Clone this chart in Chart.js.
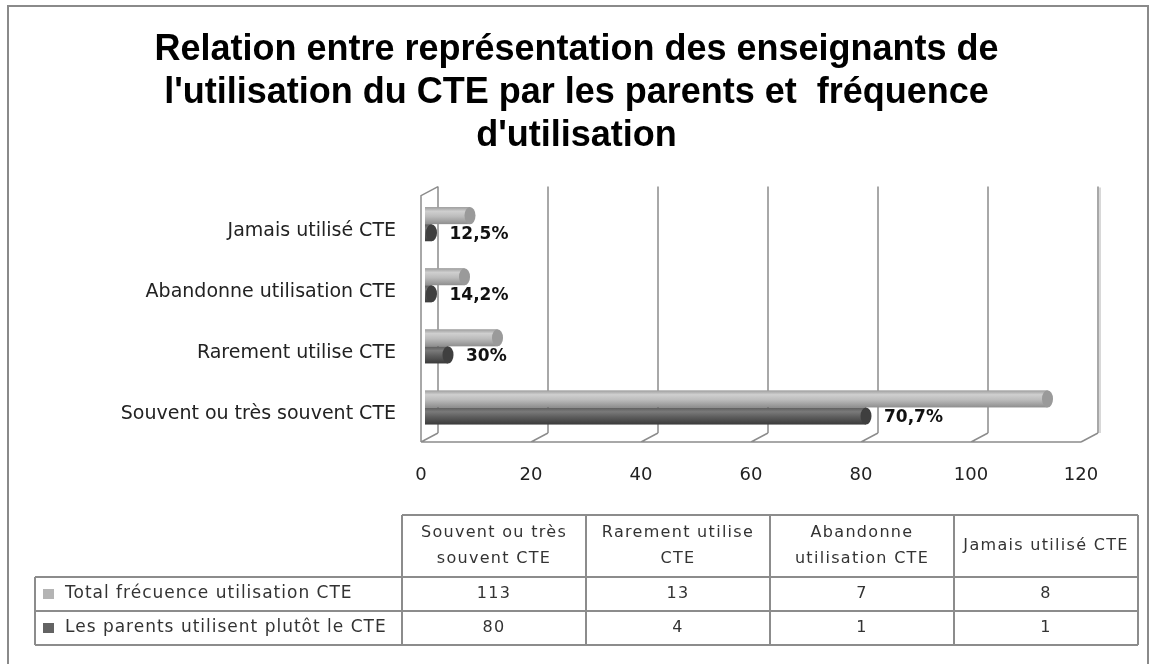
<!DOCTYPE html>
<html>
<head>
<meta charset="utf-8">
<script src="https://cdn.jsdelivr.net/npm/chart.js@4"></script>
<style>
  html, body { margin: 0; padding: 0; background: #fff; }
  #wrap { position: relative; width: 1153px; height: 664px; }
</style>
</head>
<body>
<div id="wrap"><canvas id="chart" width="1153" height="664"></canvas></div>
<script>
// categories in data-table order (bottom bar first)
const categories = ['Souvent ou très souvent CTE', 'Rarement utilise CTE', 'Abandonne utilisation CTE', 'Jamais utilisé CTE'];
const headerLines = [['Souvent ou très', 'souvent CTE'], ['Rarement utilise', 'CTE'], ['Abandonne', 'utilisation CTE'], ['Jamais utilisé CTE']];
const seriesNames = ['Total frécuence utilisation CTE', 'Les parents utilisent plutôt le CTE'];
const totalUse = [113, 13, 7, 8];
const parentsUse = [80, 4, 1, 1];
const parentShare = ['70,7%', '30%', '14,2%', '12,5%'];
const xTicks = [0, 20, 40, 60, 80, 100, 120];

const LIGHT = '#b4b4b4';
const DARK = '#636363';
const LINE = '#8c8c8c';
const FONT = 'DejaVu Sans';

// the bar chart lists categories top-down, the table lists them bottom-up
const rev = (a) => a.slice().reverse();

function cylinderFill(ctx, top, bottom, dark) {
  const g = ctx.createLinearGradient(0, top, 0, bottom);
  if (dark) {
    g.addColorStop(0, '#5c5c5c');
    g.addColorStop(0.25, '#7a7a7a');
    g.addColorStop(0.55, '#5e5e5e');
    g.addColorStop(1, '#3a3a3a');
  } else {
    g.addColorStop(0, '#9c9c9c');
    g.addColorStop(0.25, '#cfcfcf');
    g.addColorStop(0.55, '#bcbcbc');
    g.addColorStop(1, '#8e8e8e');
  }
  return g;
}

const depthFrame = {
  id: 'depthFrame',
  beforeDatasetsDraw(chart) {
    const { ctx, chartArea: a, scales: { x } } = chart;
    const front = (v) => x.getPixelForValue(v) - 4;
    const back = (v) => x.getPixelForValue(v) + 13;
    const floorY = a.bottom + 4;
    const backY = floorY - 9;
    const wallTop = a.top - 7;
    ctx.save();
    ctx.strokeStyle = LINE;
    ctx.lineWidth = 1.5;
    ctx.beginPath();
    // left side panel
    ctx.moveTo(front(0), floorY);
    ctx.lineTo(front(0), wallTop + 9);
    ctx.lineTo(back(0), wallTop);
    // back wall grid lines
    xTicks.forEach((v) => {
      ctx.moveTo(back(v), wallTop);
      ctx.lineTo(back(v), backY);
      ctx.moveTo(front(v), floorY);
      ctx.lineTo(back(v), backY);
    });
    // front floor edge
    ctx.moveTo(front(xTicks[0]), floorY);
    ctx.lineTo(front(xTicks[xTicks.length - 1]), floorY);
    ctx.stroke();
    // soft shade on the right edge of the wall
    ctx.strokeStyle = '#d8d8d8';
    ctx.lineWidth = 2;
    ctx.beginPath();
    const r = back(xTicks[xTicks.length - 1]) + 2;
    ctx.moveTo(r, wallTop + 1);
    ctx.lineTo(r, backY);
    ctx.stroke();
    ctx.restore();
  },
  afterDatasetsDraw(chart) {
    const { ctx } = chart;
    ctx.save();
    chart.data.datasets.forEach((ds, di) => {
      const dark = di === 1;
      chart.getDatasetMeta(di).data.forEach((bar, i) => {
        const { x, y, base, height } = bar.getProps(['x', 'y', 'base', 'height'], true);
        const top = y - height / 2;
        const bottom = y + height / 2;
        ctx.fillStyle = cylinderFill(ctx, top, bottom, dark);
        ctx.fillRect(base, top, x - base + 1, height);
        ctx.beginPath();
        ctx.ellipse(x + 1, y, 5.5, height / 2, 0, 0, Math.PI * 2);
        ctx.fillStyle = dark ? '#3f3f3f' : '#9a9a9a';
        ctx.fill();
        if (dark) {
          ctx.fillStyle = '#111';
          ctx.font = 'bold 17px ' + FONT;
          ctx.textAlign = 'left';
          ctx.textBaseline = 'middle';
          ctx.fillText(rev(parentShare)[i], x + 19, y + 2);
        }
      });
    });
    ctx.restore();
  },
  afterDraw(chart) {
    const { ctx } = chart;
    ctx.save();
    // outer frame
    ctx.strokeStyle = '#8a8a8a';
    ctx.lineWidth = 2;
    ctx.strokeRect(8, 6, 1140, 700);

    // data table
    const left = 35, col0 = 402, colW = 184;
    const headTop = 515, rowTop = 577, rowH = 34;
    const right = col0 + colW * categories.length;
    const bottom = rowTop + rowH * 2;
    ctx.lineWidth = 2;
    ctx.strokeStyle = LINE;
    ctx.beginPath();
    ctx.moveTo(col0, headTop); ctx.lineTo(right, headTop);
    for (let r = 0; r <= 2; r++) {
      ctx.moveTo(left, rowTop + r * rowH);
      ctx.lineTo(right, rowTop + r * rowH);
    }
    ctx.moveTo(left, rowTop); ctx.lineTo(left, bottom);
    for (let c = 0; c <= categories.length; c++) {
      ctx.moveTo(col0 + c * colW, headTop);
      ctx.lineTo(col0 + c * colW, bottom);
    }
    ctx.stroke();

    ctx.fillStyle = '#333';
    ctx.textBaseline = 'middle';
    ctx.font = '16px ' + FONT;
    ctx.letterSpacing = '1.3px';
    ctx.textAlign = 'center';
    headerLines.forEach((lines, c) => {
      const cx = col0 + c * colW + colW / 2;
      const lh = 26;
      const y0 = (headTop + rowTop) / 2 - (lines.length - 1) * lh / 2;
      lines.forEach((t, k) => ctx.fillText(t, cx, y0 + k * lh));
    });
    [totalUse, parentsUse].forEach((vals, r) => {
      const cy = rowTop + r * rowH + rowH / 2;
      vals.forEach((v, c) => ctx.fillText(String(v), col0 + c * colW + colW / 2, cy));
      ctx.fillStyle = r === 0 ? LIGHT : DARK;
      ctx.fillRect(left + 8, cy - 5, 11, 10);
      ctx.fillStyle = '#333';
      ctx.textAlign = 'left';
      ctx.font = '17px ' + FONT;
      ctx.letterSpacing = '1px';
      ctx.fillText(seriesNames[r], left + 30, cy);
      ctx.font = '16px ' + FONT;
      ctx.letterSpacing = '1.3px';
      ctx.textAlign = 'center';
    });
    ctx.restore();
  }
};

new Chart(document.getElementById('chart'), {
  type: 'bar',
  data: {
    labels: rev(categories),
    datasets: [
      { label: seriesNames[0], data: rev(totalUse), backgroundColor: 'rgba(0,0,0,0)', borderWidth: 0, categoryPercentage: 0.56, barPercentage: 1 },
      { label: seriesNames[1], data: rev(parentsUse), backgroundColor: 'rgba(0,0,0,0)', borderWidth: 0, categoryPercentage: 0.56, barPercentage: 1 }
    ]
  },
  options: {
    indexAxis: 'y',
    responsive: false,
    animation: false,
    events: [],
    layout: { padding: { left: 68, right: 68, top: 0, bottom: 166 } },
    plugins: {
      legend: { display: false },
      tooltip: { enabled: false },
      title: {
        display: true,
        text: ['Relation entre représentation des enseignants de', "l'utilisation du CTE par les parents et  fréquence", "d'utilisation"],
        color: '#000',
        font: { family: 'Liberation Sans', size: 36, weight: 'bold', lineHeight: 1.2 },
        padding: { top: 28, bottom: 36 }
      }
    },
    scales: {
      x: {
        min: xTicks[0],
        max: xTicks[xTicks.length - 1],
        ticks: { stepSize: xTicks[1] - xTicks[0], color: '#222', font: { family: FONT, size: 18 }, padding: 27, labelOffset: -4 },
        grid: { display: false, drawTicks: false },
        border: { display: false },
        afterFit(s) { s.height = 60; }
      },
      y: {
        ticks: { color: '#222', font: { family: FONT, size: 19 }, padding: 29, labelOffset: 7 },
        grid: { display: false, drawTicks: false },
        border: { display: false },
        afterFit(s) { s.width = 357; }
      }
    }
  },
  plugins: [depthFrame]
});
</script>
</body>
</html>
